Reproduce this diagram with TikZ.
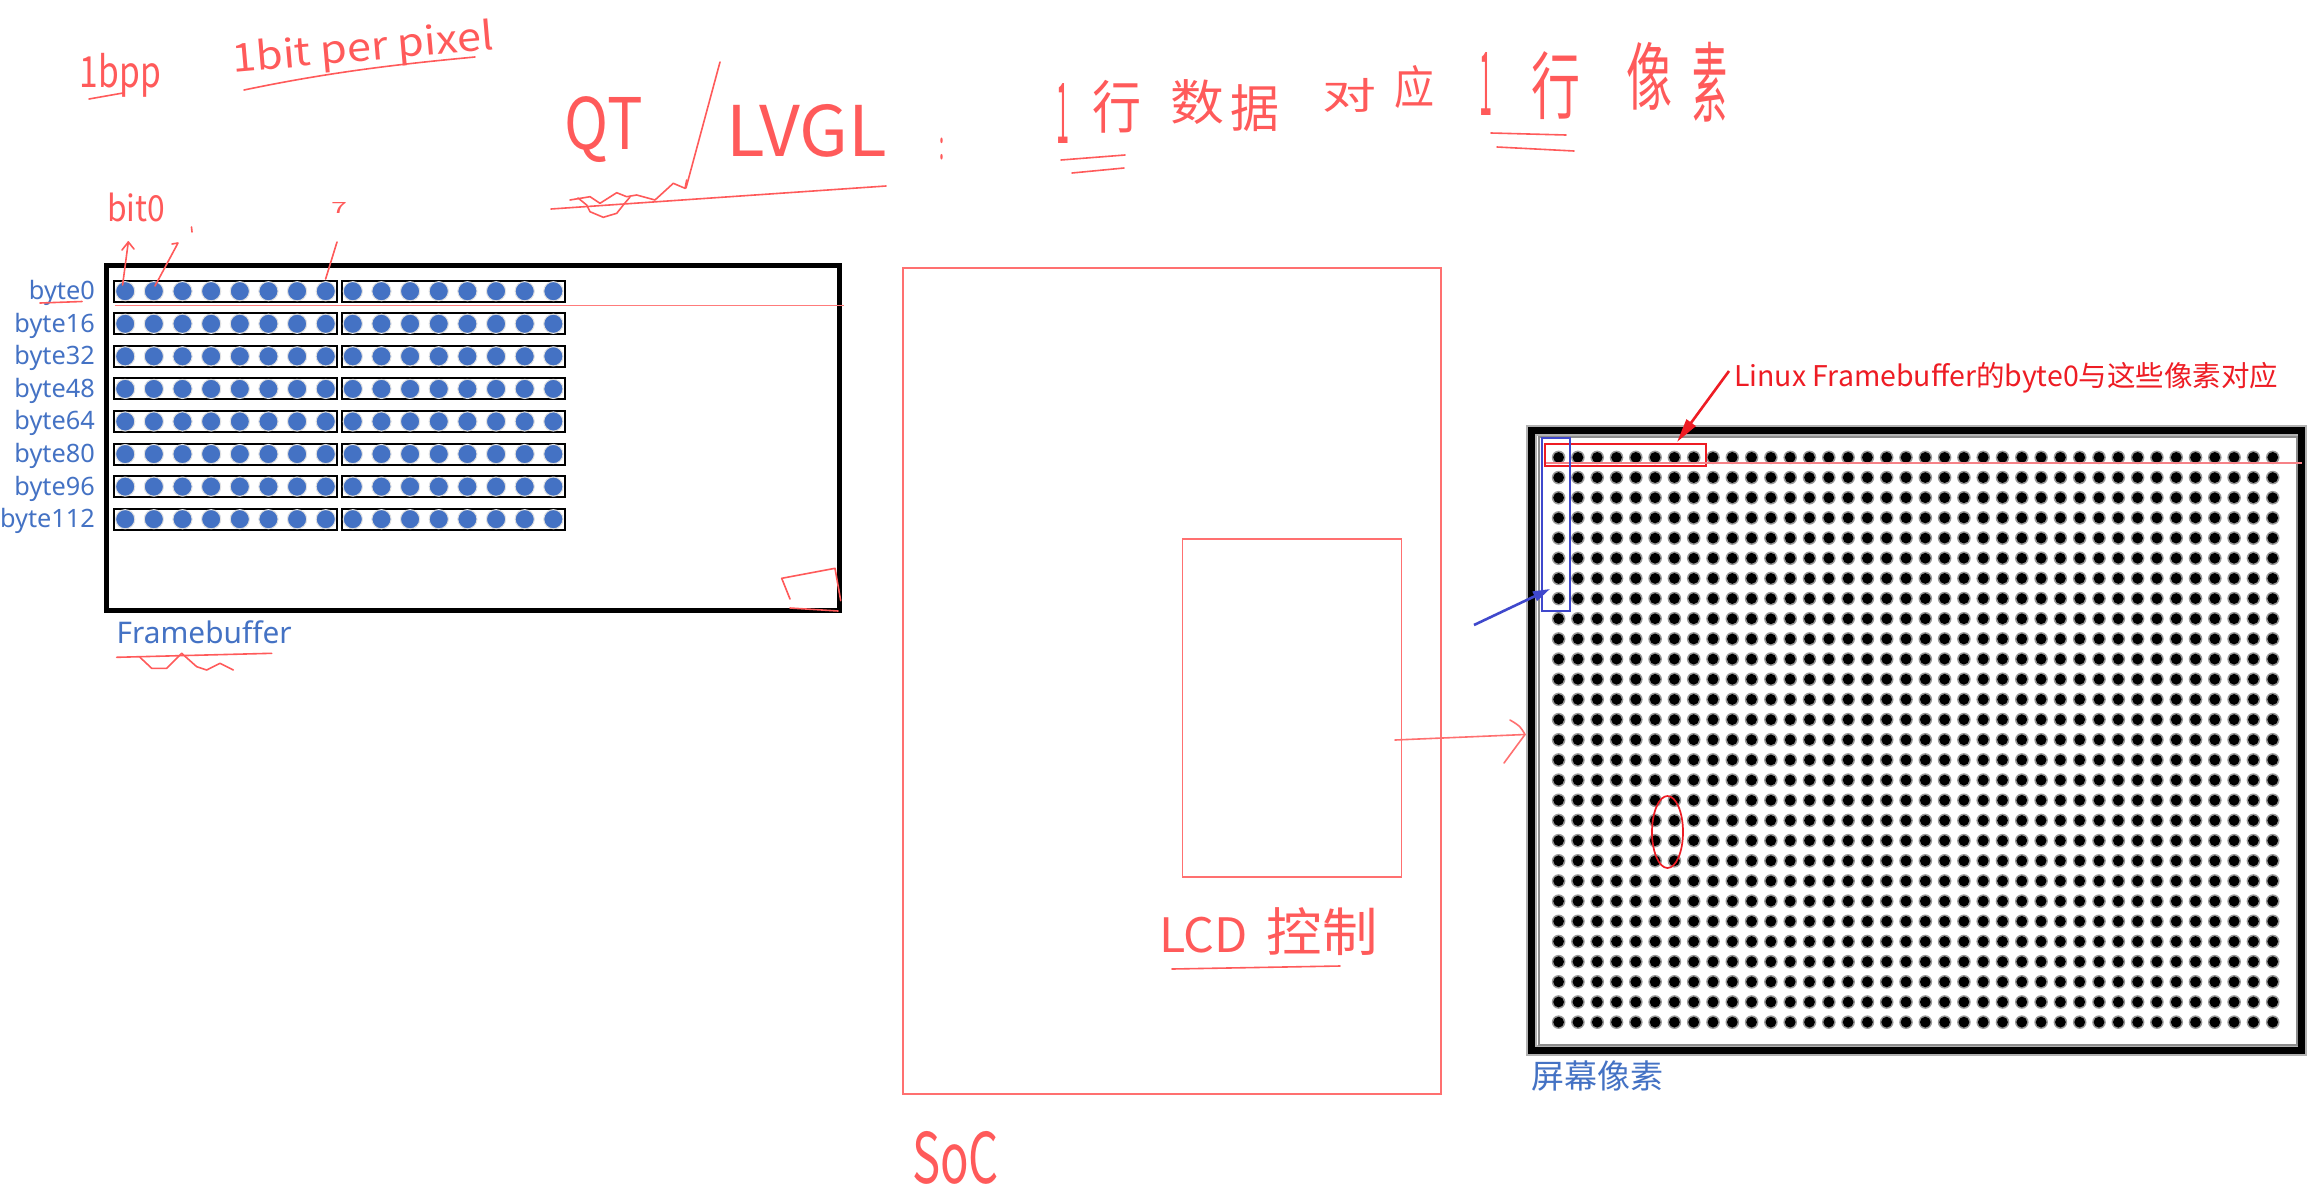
\documentclass[tikz,border=0pt]{standalone}
\usepackage{fontspec}
\setmainfont{Noto Sans}
\newfontfamily\cjk{Noto Sans CJK SC}
\usepackage{graphicx}
\usetikzlibrary{arrows.meta}
\newcommand\fitto[3]{\resizebox*{#1}{#2}{#3}}
\definecolor{fbblue}{HTML}{4472C4}
\definecolor{hwred}{HTML}{FF5A5A}
\definecolor{boxred}{HTML}{FF7070}
\definecolor{annred}{HTML}{EE1C24}
\definecolor{selblue}{HTML}{3F48CC}
\begin{document}
\begin{tikzpicture}[x=1pt,y=-1pt,
  hw/.style={text=hwred, inner sep=0pt, outer sep=0pt, font=\cjk},
  hwline/.style={draw=hwred, line width=1.6pt, line cap=round, line join=round},
  bytelbl/.style={text=fbblue, font=\fontsize{25.3}{27}\selectfont, anchor=base east, inner sep=0pt},
  bytebox/.style={draw=black, line width=2pt},
  bitdot/.style={fill=fbblue, draw=black!12, line width=1pt},
  redbox/.style={draw=boxred, line width=1.6pt, inner sep=0pt, outer sep=0pt},
  frame/.style={inner sep=0pt, outer sep=0pt},
  bluelbl/.style={text=fbblue, inner sep=0pt}]
\useasboundingbox[fill=white] (0,0) rectangle (2321,1192);

% ---------------- top handwriting ----------------
\node[hw] (t1bpp) at (120.5,75) {\fitto{81pt}{44pt}{1bpp}};
\draw[hwline] (89,99) -- (123,93);
\node[hw, rotate=5] (tbitpp) at (363,50) {\fitto{262pt}{40pt}{1bit per pixel}};
\draw[hwline] (244,90) .. controls (330,72) and (400,64) .. (475,57);

\node[hw] (tqt) at (604,130) {\fitto{78pt}{66pt}{QT}};
\draw[hwline] (720,62) -- (686,188);
\node[hw] (tlvgl) at (807,131) {\fitto{160pt}{53pt}{LVGL}};
\draw[hwline] (551,209) -- (886,186);
\draw[hwline] (570,200) -- (590,196.7) -- (600,203.3) -- (616.7,192.7) -- (626.7,196.7) -- (636.7,195) -- (655,200) -- (673.3,183.3) -- (685,188.3) -- (686.7,180);
\draw[hwline] (578,198) -- (586.7,205) -- (590,211.7) -- (603.3,217.3) -- (616.7,213.3) -- (623.3,205) -- (630,197);
\node[hw] (tcolon) at (942,149) {\fitto{5pt}{22pt}{:}};

\node[hw] (ta1) at (1063,113) {\fitto{13pt}{60pt}{1}};
\node[hw] (ta2) at (1116.5,106.5) {\fitto{49pt}{53pt}{行}};
\node[hw] (ta3) at (1197,102.5) {\fitto{54pt}{45pt}{数}};
\node[hw] (ta4) at (1254.5,108.5) {\fitto{49pt}{47pt}{据}};
\node[hw] (ta5) at (1349,95) {\fitto{54pt}{34pt}{对}};
\node[hw] (ta6) at (1414.5,86.5) {\fitto{40pt}{43pt}{应}};
\draw[hwline] (1061,160) -- (1125,155);
\draw[hwline] (1072,173) -- (1124,168);

\node[hw] (tb1) at (1485.5,83.5) {\fitto{13pt}{63pt}{1}};
\node[hw] (tb2) at (1555.5,86) {\fitto{49pt}{68pt}{行}};
\node[hw] (tb3) at (1649,76) {\fitto{46pt}{68pt}{像}};
\node[hw] (tb4) at (1709.5,82) {\fitto{35pt}{80pt}{素}};
\draw[hwline] (1491,133) -- (1566,135);
\draw[hwline] (1497,147) -- (1574,151);

% ---------------- Framebuffer ----------------
\node[frame, draw=black, line width=5pt, minimum width=733pt, minimum height=345pt] (fb) at (472.5,437.5) {};
\foreach \r in {0,...,7}{
  \pgfmathsetmacro\yc{291.2+32.57*\r}
  \pgfmathtruncatemacro\bn{16*\r}
  \draw[bytebox] (113.7,{\yc-10.5}) rectangle (337,{\yc+10.5});
  \draw[bytebox] (341.6,{\yc-10.5}) rectangle (565,{\yc+10.5});
  \foreach \i in {0,...,7}{
    \fill[bitdot] ({125.2+28.65*\i},\yc) circle (9.6pt);
    \fill[bitdot] ({352.8+28.65*\i},\yc) circle (9.6pt);
  }
  \node[bytelbl] (byte\bn) at (95,{\yc+8.5}) {byte\bn};
}
\node[bluelbl, anchor=base west, font=\fontsize{29.8}{31}\selectfont] (fblabel) at (116.5,643.3) {Framebuffer};
% handwritten marks on framebuffer
\draw[draw=hwred!80, line width=1.3pt] (115,305.5) -- (844,305.5);
\draw[hwline] (40,303) -- (82,301.5);
\draw[hwline] (116.7,657.3) -- (271.7,653.3);
\draw[hwline] (140,657.3) -- (151.7,668.3) -- (166.7,668.3) -- (181.7,653.3) -- (196.7,666.7) -- (206.7,670) -- (220,663.3) -- (233.3,670);
\draw[hwline] (790,599) -- (781.7,578.3) -- (835,568.3) -- (840.7,600.7);
\draw[hwline] (790,608) -- (838,611);
\node[hw] (tbit0) at (136,207.5) {\fitto{58pt}{29pt}{bit0}};
\coordinate (b0top) at (128.3,242);
\draw[hwline] (122.6,285) -- (b0top);
\draw[hwline] (122,250) -- (b0top) -- (134,249);
\draw[hwline] (155,286) -- (178,243) -- (172,244);
\draw[hwline] (191.5,227) -- (192,232);
\draw[hwline] (325.6,279) -- (337,242);
\node[hw] (tbit7) at (339,208) {\fitto{16pt}{11pt}{7}};

% ---------------- SoC ----------------
\node[redbox, minimum width=538pt, minimum height=826pt] (soc) at (1172,681) {};
\node[redbox, minimum width=219pt, minimum height=338pt] (lcd) at (1292,708) {};
\node[hw] (tlcd) at (1203.5,935) {\fitto{89pt}{36pt}{LCD}};
\node[hw] (tctl) at (1322,932) {\fitto{111pt}{48pt}{控制}};
\draw[hwline] (1172,969) -- (1340,966);
\node[hw] (tsoc) at (955.5,1157.5) {\fitto{87pt}{53pt}{SoC}};

% ---------------- Screen ----------------
\node[frame, draw=black!30, line width=11pt, minimum width=770pt, minimum height=620pt] (screenhalo) at (1916.6,740.8) {};
\node[frame, draw=black, line width=7pt, minimum width=770pt, minimum height=620pt] (screen) at (1916.6,740.8) {};
\draw[black!45, line width=1.5pt] (1539,437) rectangle (2297,1045);
\foreach \c in {0,...,37}{
  \foreach \rr in {0,...,28}{
    \fill[black!40] ({1558.6+19.3*\c},{457.4+20.17*\rr}) circle (6.8pt);
    \fill[black] ({1558.6+19.3*\c},{457.4+20.17*\rr}) circle (5.4pt);
  }
}
\node[bluelbl, anchor=base west, font=\cjk\fontsize{33}{35}\selectfont] (screenlbl) at (1531,1088) {屏幕像素};

% arrow LCD -> screen
\coordinate (lcdS) at (1395,740);
\coordinate (lcdE) at (1525,734.5);
\draw[draw=boxred, line width=1.6pt, line cap=round, line join=round] (lcdS) -- (lcdE);
\draw[draw=boxred, line width=1.6pt, line cap=round, line join=round] (1510,720) .. controls (1520,726) .. (lcdE) .. controls (1515,748) .. (1504,763);

% annotations
\node[draw=annred, line width=2pt, inner sep=0pt, minimum width=161.5pt, minimum height=22pt] (selrow) at (1625.3,455) {};
\draw[draw=annred!55, line width=1.3pt] (1546,463) -- (2302,463);
\node[anchor=west, inner sep=0pt, text=annred, font=\cjk] (ann) at (1734,377.5) {\resizebox{544pt}{!}{Linux Framebuffer的byte0与这些像素对应}};
\coordinate (annS) at (1729,371);
\coordinate (annE) at (1677,442);
\draw[annred, line width=2.6pt, -{Triangle[length=24pt,width=11pt]}] (annS) -- (annE);

\node[draw=selblue, line width=2pt, inner sep=0pt, minimum width=28pt, minimum height=173pt] (selcol) at (1556,524.5) {};
\coordinate (blS) at (1474,625);
\coordinate (blE) at (1550,589);
\draw[selblue, line width=2.6pt, -{Triangle[length=17pt,width=10pt]}] (blS) -- (blE);

\draw[annred, line width=1.7pt] (1667.5,832) ellipse [x radius=15.5pt, y radius=36pt];
\end{tikzpicture}
\end{document}
